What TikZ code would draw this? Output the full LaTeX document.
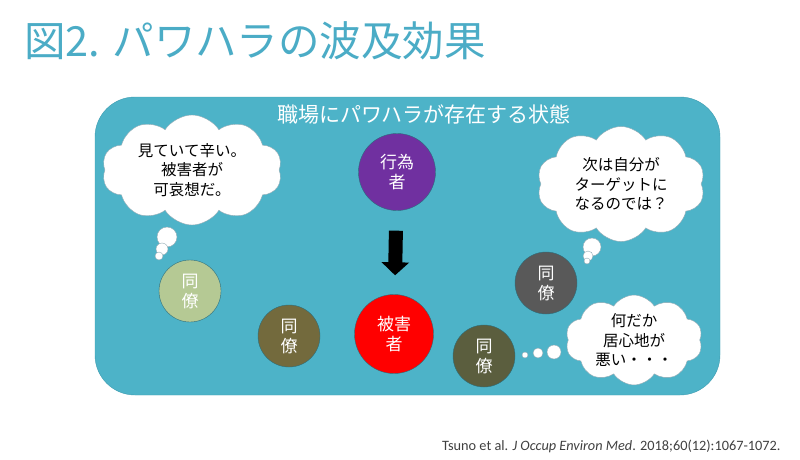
\documentclass[tikz,border=0pt]{standalone}
\usepackage{fontspec}
\setmainfont{Noto Sans CJK JP}
\newfontfamily\citefont{Carlito}
\usetikzlibrary{shapes.symbols,arrows.meta}
\definecolor{titleteal}{HTML}{4BACC6}
\definecolor{stagefill}{HTML}{4DB3C8}
\definecolor{stageline}{HTML}{3F9CB0}
\definecolor{actorpurple}{HTML}{7030A0}
\definecolor{sagegreen}{HTML}{B5C994}
\definecolor{olivebrown}{HTML}{736A3D}
\definecolor{darkolive}{HTML}{5B5E3E}
\definecolor{slategray}{HTML}{595959}
\definecolor{cloudline}{HTML}{8FA9B3}
\definecolor{citegray}{HTML}{404040}
\begin{document}
\begin{tikzpicture}[
  x=1pt, y=-1pt,
  every node/.style={inner sep=0pt},
  member/.style={circle, draw=stageline!70!black, thin, text=white,
    align=center, minimum size=62pt, font=\fontsize{17}{20}\selectfont},
  thought/.style={cloud, cloud puffs=10, cloud puff arc=115,
    cloud ignores aspect, draw=cloudline, fill=white, align=center,
    font=\fontsize{15.5}{19.5}\selectfont},
  puff/.style={circle, draw=cloudline, fill=white},
]
\useasboundingbox (0,0) rectangle (800,460);

% ── title ───────────────────────────
\node[anchor=west, text=titleteal, font=\fontsize{41.5}{44}\selectfont]
  (title) at (24,41) {図2. パワハラの波及効果};

% ── stage: workplace ────────────────
\draw[fill=stagefill, draw=stageline, rounded corners=40pt]
  (95,97) rectangle (720,395);
\node[text=white, font=\fontsize{21}{24}\selectfont]
  (stage) at (424,114) {職場にパワハラが存在する状態};

% ── actor and victim ────────────────
\node[member, fill=actorpurple, minimum size=77pt] (actor) at (397,172) {行為\\者};
\node[member, fill=red, minimum size=79pt] (victim) at (394,334) {被害\\者};
\draw[line width=14pt, shorten <=20pt, shorten >=19pt,
      -{Triangle[width=27pt, length=13pt]}]
  (actor) -- (victim);

% ── colleagues ──────────────────────
\node[member, fill=sagegreen]  (peerA) at (190,291) {同\\僚};
\node[member, fill=olivebrown] (peerB) at (289,336) {同\\僚};
\node[member, fill=slategray]  (peerC) at (546,283) {同\\僚};
\node[member, fill=darkolive]  (peerD) at (484,356) {同\\僚};

% ── thoughts ────────────────────────
\node[thought, minimum width=180pt, minimum height=110pt]
  (thinkA) at (192,170) {見ていて辛い。\\被害者が\\可哀想だ。};
\node[puff, minimum size=20pt] (tailA1) at (167,237) {};
\node[puff, minimum size=12pt] (tailA2) at (162,249) {};
\node[puff, minimum size=8pt]  (tailA3) at (159,256) {};

\node[thought, minimum width=168pt, minimum height=115pt]
  (thinkC) at (621,184) {次は自分が\\ターゲットに\\なるのでは？};
\node[puff, minimum size=18pt] (tailC1) at (592,247) {};
\node[puff, minimum size=10pt] (tailC2) at (588,256) {};
\node[puff, minimum size=6pt]  (tailC3) at (587,261) {};

\node[thought, minimum width=137pt, minimum height=80pt]
  (thinkD) at (634,340) {何だか\\居心地が\\悪い・・・};
\node[puff, minimum size=14pt] (tailD1) at (554,352) {};
\node[puff, minimum size=10pt] (tailD2) at (538,353) {};
\node[puff, minimum size=6pt]  (tailD3) at (525,355) {};

% ── source ──────────────────────────
\node[anchor=base west, text=citegray, font=\citefont\fontsize{14.3}{16}\selectfont]
  (source) at (442,450)
  {Tsuno et al. \textit{J Occup Environ Med}. 2018;60(12):1067-1072.};

\end{tikzpicture}
\end{document}
